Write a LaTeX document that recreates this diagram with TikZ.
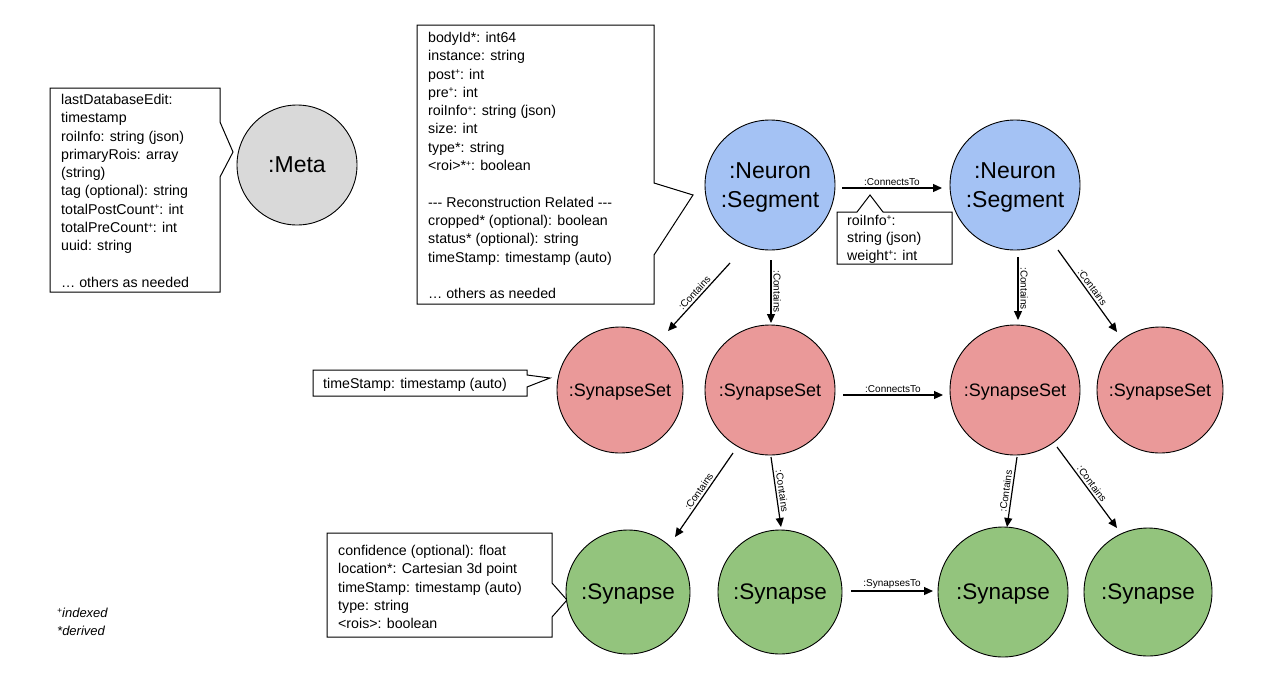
\documentclass[tikz,border=0pt]{standalone}
\usepackage{fontspec}
\setmainfont{Liberation Sans}[Ligatures=TeXOff]
\usetikzlibrary{arrows.meta,calc}
\definecolor{metagray}{HTML}{D9D9D9}
\definecolor{neuronblue}{HTML}{A4C2F4}
\definecolor{setred}{HTML}{EA9999}
\definecolor{synapsegreen}{HTML}{93C47D}
% small raised plus marking an indexed property
\newcommand{\idx}{\raisebox{0.6ex}{\fontsize{8.5}{8.5}\selectfont +}}

\begin{document}
\begin{tikzpicture}[x=1pt,y=-1pt,
  entity/.style={circle, draw=black, line width=0.9pt, inner sep=0pt, align=center, text depth=0pt},
  metanode/.style={entity, fill=metagray, minimum size=120pt, font=\fontsize{23}{29}\selectfont},
  neuron/.style={entity, fill=neuronblue, minimum size=130pt, font=\fontsize{23}{29}\selectfont},
  synset/.style={entity, fill=setred, minimum size=128pt, font=\fontsize{18}{22}\selectfont},
  synapse/.style={entity, fill=synapsegreen, minimum size=126pt, font=\fontsize{22.5}{27}\selectfont},
  rel/.style={-{Triangle[length=9pt,width=8pt]}, line width=1.2pt},
  rellabel/.style={font=\fontsize{10}{12}\selectfont, sloped, above, midway, inner sep=2pt},
  callout/.style={draw=black, line width=1pt, fill=white, line join=miter},
  notes/.style={anchor=north west, align=left, inner sep=0pt, font=\fontsize{14.2}{18.3}\selectfont},
]
\useasboundingbox (0,0) rectangle (1282,686);

% ---- property callouts ----
\draw[callout] (50,88) -- (220,88) -- (220,122) -- (233,152) -- (220,177) -- (220,292) -- (50,292) -- cycle;
\node[notes] (metanotes) at (61,94) {lastDatabaseEdit:\\timestamp\\roiInfo: string (json)\\primaryRois: array\\(string)\\tag (optional): string\\totalPostCount\idx: int\\totalPreCount\idx: int\\uuid: string\\[18.3pt]… others as needed};

\draw[callout] (417,25) -- (654,25) -- (654,183) -- (693,195) -- (654,255) -- (654,304) -- (417,304) -- cycle;
\node[notes] (neuronnotes) at (428,32) {bodyId*: int64\\instance: string\\post\idx: int\\pre\idx: int\\roiInfo\idx: string (json)\\size: int\\type*: string\\<roi>*\idx: boolean\\[18.3pt]--- Reconstruction Related ---\\cropped* (optional): boolean\\status* (optional): string\\timeStamp: timestamp (auto)\\[18.3pt]… others as needed};

\draw[callout] (837,212) -- (857,212) -- (870,195) -- (883,212) -- (952,212) -- (952,264) -- (837,264) -- cycle;
\node[notes, font=\fontsize{14.2}{17.5}\selectfont] (edgenotes) at (847,215) {roiInfo\idx:\\string (json)\\weight\idx: int};

\draw[callout] (313,370) -- (527,370) -- (527,375) -- (550,378) -- (527,387) -- (527,396) -- (313,396) -- cycle;
\node[notes, anchor=west] (setnotes) at (323,385) {timeStamp: timestamp (auto)};

\draw[callout] (327,533) -- (552,533) -- (552,583) -- (567,600) -- (552,617) -- (552,637) -- (327,637) -- cycle;
\node[notes] (synapsenotes) at (338,545) {confidence (optional): float\\location*: Cartesian 3d point\\timeStamp: timestamp (auto)\\type: string\\<rois>: boolean};

% ---- legend ----
\node[notes, font=\fontsize{13}{18}\selectfont\itshape] (legend) at (57,608) {\idx indexed\\*derived};

% ---- entities ----
\node[metanode] (meta) at (297,165) {:Meta};
\node[neuron] (n1) at (770,185) {:Neuron\\:Segment};
\node[neuron] (n2) at (1015,185) {:Neuron\\:Segment};
\node[synset, minimum size=126pt] (ss1) at (620,390) {:SynapseSet};
\node[synset, minimum size=130pt] (ss2) at (770,390) {:SynapseSet};
\node[synset, minimum size=130pt] (ss3) at (1015,390) {:SynapseSet};
\node[synset, minimum size=126pt] (ss4) at (1160,390) {:SynapseSet};
\node[synapse, minimum size=124pt] (sy1) at (628,592) {:Synapse};
\node[synapse, minimum size=124pt] (sy2) at (780,592) {:Synapse};
\node[synapse, minimum size=130pt] (sy3) at (1003,592) {:Synapse};
\node[synapse, minimum size=128pt] (sy4) at (1148,592) {:Synapse};

% ---- relationships ----
\draw[rel] ($(n1)+(72,3)$) -- node[rellabel] {:ConnectsTo} ($(n2)+(-73,3)$);
\draw[rel] ($(n1)+(-40,78)$) -- node[rellabel] {:Contains} ($(ss1)+(48,-59)$);
\draw[rel] ($(n1)+(1,75)$) -- node[rellabel] {:Contains} ($(ss2)+(1,-67)$);
\draw[rel] ($(n2)+(3,72)$) -- node[rellabel] {:Contains} ($(ss3)+(3,-70)$);
\draw[rel] ($(n2)+(43,65)$) -- node[rellabel] {:Contains} ($(ss4)+(-43,-58)$);
\draw[rel] ($(ss2)+(73,5)$) -- node[rellabel] {:ConnectsTo} ($(ss3)+(-72,5)$);
\draw[rel] ($(ss2)+(-37,63)$) -- node[rellabel] {:Contains} ($(sy1)+(47,-55)$);
\draw[rel] ($(ss2)+(1,67)$) -- node[rellabel] {:Contains} ($(sy2)+(1,-65)$);
\draw[rel] ($(ss3)+(2,67)$) -- node[rellabel] {:Contains} ($(sy3)+(4,-65)$);
\draw[rel] ($(ss3)+(42,57)$) -- node[rellabel] {:Contains} ($(sy4)+(-31,-64)$);
\draw[rel] ($(sy2)+(71,-1)$) -- node[rellabel] {:SynapsesTo} ($(sy3)+(-70,-1)$);
\end{tikzpicture}
\end{document}
